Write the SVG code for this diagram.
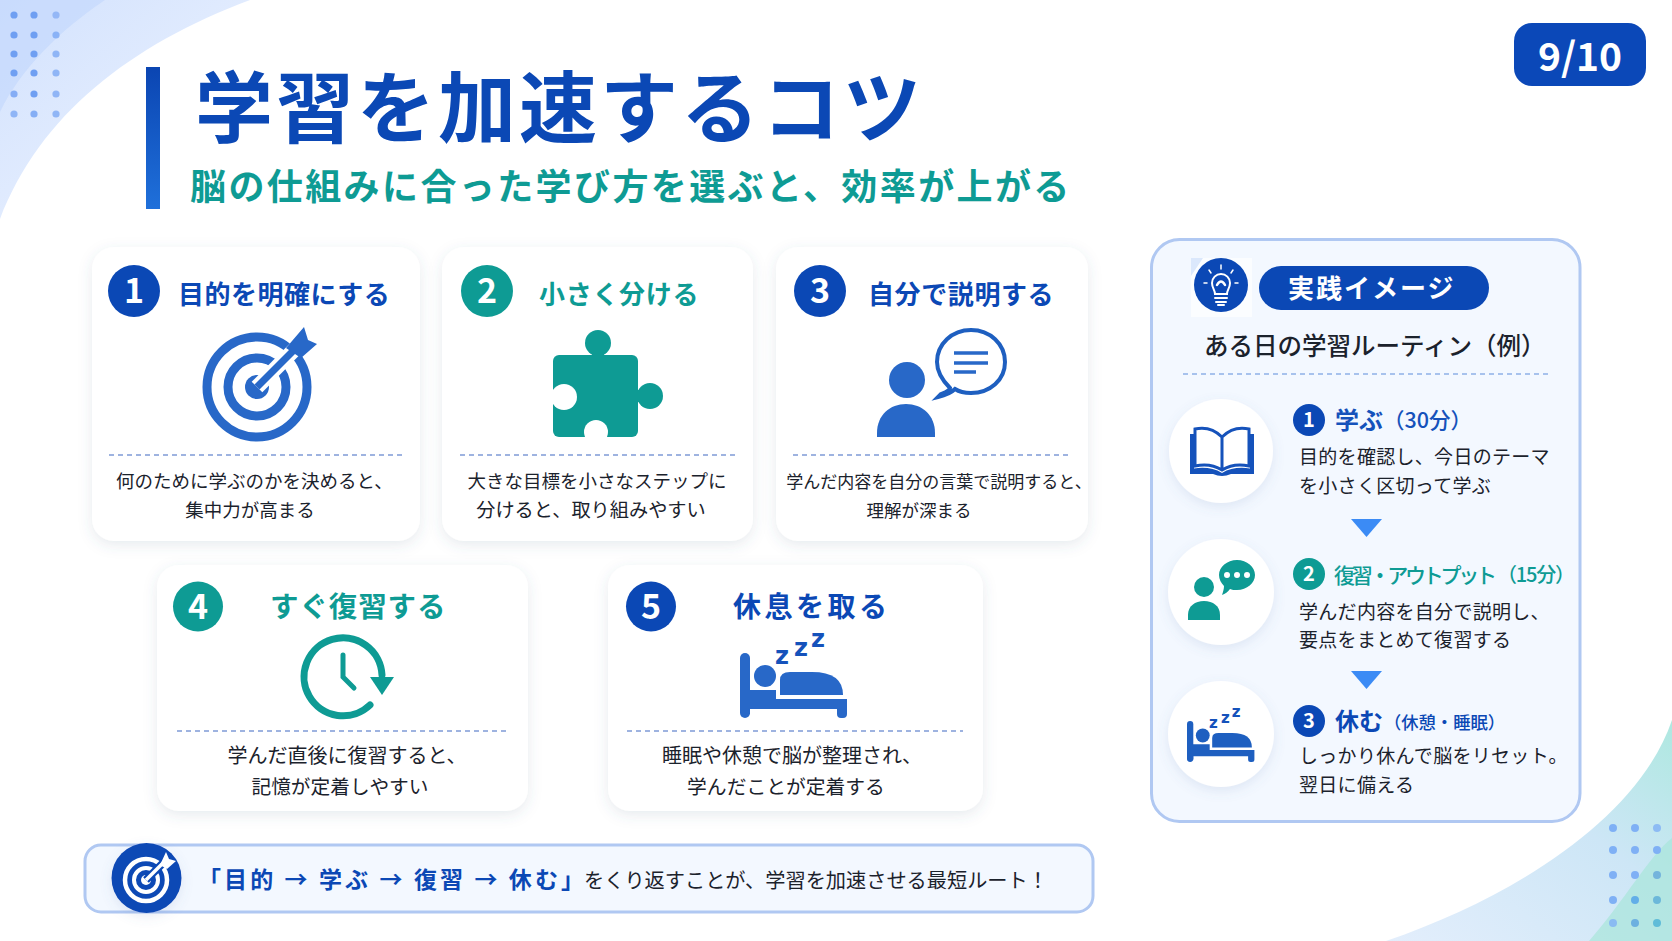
<svg xmlns="http://www.w3.org/2000/svg" xmlns:xlink="http://www.w3.org/1999/xlink" width="1672" height="941" viewBox="0 0 1672 941">
<style>
text{font-family:"Noto Sans CJK JP","Noto Sans",sans-serif}
.card{fill:#fff;filter:url(#sh)}
.dash{stroke:#7f9ad6;stroke-width:1.6;stroke-dasharray:5 4;fill:none}
.d{font-size:18.5px;fill:#1b222c;text-anchor:middle;font-weight:400}
.t{font-weight:700;font-size:26px}
.num{fill:#fff;font-weight:700;font-size:34px;text-anchor:middle}
.nums{fill:#fff;font-weight:700;font-size:20px;text-anchor:middle}
.blue{fill:#0b48b5}.teal{fill:#0e9b94}.ib{fill:#2868c8}
.sd{font-size:19px;fill:#1b222c;letter-spacing:.3px}
.z{font-family:"DejaVu Sans",sans-serif;font-weight:700;font-size:24px;fill:#1552bb}
.circ{fill:#fff;filter:url(#sh2)}
</style>
<defs>
<filter id="sh" x="-10%" y="-10%" width="120%" height="125%"><feDropShadow dx="0" dy="4" stdDeviation="7" flood-color="#4a6080" flood-opacity=".13"/></filter>
<filter id="sh2" x="-20%" y="-20%" width="140%" height="145%"><feDropShadow dx="0" dy="4" stdDeviation="6" flood-color="#5a7ab0" flood-opacity=".14"/></filter>
<linearGradient id="bar" x1="0" y1="0" x2="0" y2="1"><stop offset="0" stop-color="#0b45b2"/><stop offset="1" stop-color="#1f70da"/></linearGradient>
<linearGradient id="tl" x1="0" y1="0" x2="1" y2="1"><stop offset="0" stop-color="#d3e2fd"/><stop offset="1" stop-color="#eef4ff"/></linearGradient>
<linearGradient id="br" x1="0" y1="1" x2="1" y2="0"><stop offset="0" stop-color="#e3eefc"/><stop offset=".6" stop-color="#cde6f6"/><stop offset="1" stop-color="#aee8e0"/></linearGradient>
<g id="bed">
<rect x="740" y="653" width="10" height="65" rx="5"/>
<path d="M745 690H776V699H847V714a4 4 0 0 1-4 4H841a4 4 0 0 1-4-4V709H750V714H745Z"/>
<circle cx="765" cy="676" r="11"/>
<path d="M780 695V680Q780 672 790 672H812Q843 672 843 695Z"/>
<text class="z" x="775" y="664">z</text><text class="z" x="794" y="656">z</text><text class="z" x="811" y="647">z</text>
</g>
</defs>
<rect width="1672" height="941" fill="#fff"/>
<g id="background">
<path d="M0 0H250C130 45 40 115 0 219Z" fill="url(#tl)"/>
<path d="M0 0H105C60 30 20 70 0 112Z" fill="#c4d9fc" opacity=".7"/>
<path d="M1672 720C1640 815 1520 895 1386 941H1672Z" fill="url(#br)"/>
<path d="M1672 838C1650 855 1625 900 1589 941H1672Z" fill="#a8e6da" opacity=".7"/>
<g fill="#6f9ff2">
<circle cx="14" cy="15" r="3.6"/><circle cx="34" cy="15" r="3.6"/><circle cx="56" cy="15" r="3.6" opacity=".6"/>
<circle cx="14" cy="35" r="3.6"/><circle cx="34" cy="35" r="3.6"/><circle cx="56" cy="35" r="3.6" opacity=".7"/>
<circle cx="14" cy="54" r="3.6"/><circle cx="34" cy="54" r="3.6"/><circle cx="56" cy="54" r="3.6" opacity=".7"/>
<circle cx="14" cy="73" r="3.6"/><circle cx="34" cy="73" r="3.6"/><circle cx="56" cy="73" r="3.6" opacity=".7"/>
<circle cx="14" cy="94" r="3.6" opacity=".8"/><circle cx="34" cy="94" r="3.6"/><circle cx="56" cy="94" r="3.6" opacity=".7"/>
<circle cx="14" cy="114" r="3.6" opacity=".7"/><circle cx="34" cy="114" r="3.6" opacity=".8"/><circle cx="56" cy="114" r="3.6" opacity=".7"/>
</g>
<g fill="#7fb0f5">
<circle cx="1613" cy="828" r="4"/><circle cx="1635" cy="828" r="4"/><circle cx="1657" cy="828" r="4" opacity=".8"/>
<circle cx="1613" cy="850" r="4"/><circle cx="1635" cy="850" r="4"/><circle cx="1657" cy="850" r="4"/>
<circle cx="1613" cy="875" r="4"/><circle cx="1635" cy="875" r="4"/><circle cx="1657" cy="875" r="4" fill="#74b4dc"/>
<circle cx="1613" cy="900" r="4"/><circle cx="1635" cy="900" r="4" fill="#62aee8"/><circle cx="1657" cy="900" r="4" fill="#6cb8da"/>
<circle cx="1613" cy="923" r="4" opacity=".8"/><circle cx="1635" cy="923" r="4" fill="#6cb0e0"/><circle cx="1657" cy="923" r="4" fill="#60bcd8"/>
</g>
</g>
<g id="header">
<rect x="146" y="67" width="14" height="142" fill="url(#bar)"/>
<text x="195" y="137" font-size="78" font-weight="700" letter-spacing="3" class="blue">学習を加速するコツ</text>
<text x="190" y="200" font-size="36" font-weight="700" letter-spacing="2.4" class="teal">脳の仕組みに合った学び方を選ぶと、効率が上がる</text>
</g>
<g id="page-badge">
<rect x="1514" y="23" width="132" height="63" rx="18" fill="#0b48b8"/>
<text x="1580" y="71" font-size="39" font-weight="700" fill="#fff" text-anchor="middle">9/10</text>
</g>
<g id="card-1">
<rect class="card" x="92" y="247" width="328" height="294" rx="22"/>
<circle cx="134" cy="291" r="26" class="blue"/><text class="num" x="134" y="303">1</text>
<text class="t blue" x="178" y="304" letter-spacing=".5">目的を明確にする</text>
<g fill="none" stroke="#2868c8" stroke-width="9"><circle cx="257" cy="387" r="50"/><circle cx="257" cy="387" r="29"/></g>
<circle cx="257" cy="387" r="12" class="ib"/>
<path d="M257 387L296 348" stroke="#fff" stroke-width="15" fill="none"/>
<path d="M257 387L296 348" stroke="#2868c8" stroke-width="7" fill="none"/>
<path d="M304 327L308 340L317 344L301 358L286 348Z" class="ib"/>
<path class="dash" d="M109 455H402"/>
<text class="d" x="254.500" y="488">何のために学ぶのかを決めると、</text>
<text class="d" x="250" y="517">集中力が高まる</text>
</g>
<g id="card-2">
<rect class="card" x="442" y="247" width="311" height="294" rx="22"/>
<circle cx="487" cy="291" r="26" class="teal"/><text class="num" x="487" y="303">2</text>
<text class="t teal" x="539" y="304" letter-spacing=".7">小さく分ける</text>
<rect x="553" y="355" width="85" height="82" rx="6" class="teal"/>
<circle cx="598" cy="343" r="13" class="teal"/><circle cx="650" cy="396" r="13" class="teal"/>
<rect x="592" y="350" width="12" height="10" class="teal"/><rect x="634" y="390" width="10" height="12" class="teal"/>
<circle cx="564" cy="397" r="13" fill="#fff"/><rect x="551" y="391" width="6" height="12" fill="#fff"/>
<circle cx="596" cy="432" r="12" fill="#fff"/><rect x="590" y="434" width="12" height="5" fill="#fff"/>
<path class="dash" d="M460 455H735"/>
<text class="d" x="597" y="488">大きな目標を小さなステップに</text>
<text class="d" x="591" y="517" style="font-size:19.200px">分けると、取り組みやすい</text>
</g>
<g id="card-3">
<rect class="card" x="776" y="247" width="312" height="294" rx="22"/>
<circle cx="820" cy="291" r="26" class="blue"/><text class="num" x="820" y="303">3</text>
<text class="t blue" x="868" y="304" letter-spacing=".6">自分で説明する</text>
<circle cx="907" cy="380" r="18" class="ib"/>
<path d="M877 437V433C877 415 890 404 906 404S935 415 935 433V437Z" class="ib"/>
<path d="M941 394C949 391 950 389 950 388C940 378 937 370 937 362C937 344 952 330 971 330S1005 344 1005 362S990 393 971 393C964 393 958 391 955 389C951 393 946 395 938 397Z" fill="#fff" stroke="#1e5fc0" stroke-width="4"/>
<path d="M954 353H988M954 363H988M954 372H976" stroke="#2868c8" stroke-width="3.500" fill="none"/>
<path class="dash" d="M793 455H1070"/>
<text class="d" x="939" y="488" style="font-size:17px">学んだ内容を自分の言葉で説明すると、</text>
<text class="d" x="919" y="517" style="font-size:17.500px">理解が深まる</text>
</g>
<g id="card-4">
<rect class="card" x="157" y="565" width="371" height="246" rx="22"/>
<circle cx="198" cy="606.500" r="25" class="teal"/><text class="num" x="198" y="618.500">4</text>
<text class="t teal" x="270" y="617" style="font-size:28.500px" letter-spacing=".9">すぐ復習する</text>
<path d="M370 705A39 39 0 1 1 382 675" fill="none" stroke="#0e9b94" stroke-width="7" stroke-linecap="round"/>
<path d="M370 677H394L382 695Z" class="teal"/>
<path d="M343 655V677L354 688" fill="none" stroke="#0e9b94" stroke-width="5" stroke-linecap="round"/>
<path class="dash" d="M177 731H507"/>
<text class="d" x="347" y="763" style="font-size:20px">学んだ直後に復習すると、</text>
<text class="d" x="340" y="794" style="font-size:19.700px">記憶が定着しやすい</text>
</g>
<g id="card-5">
<rect class="card" x="608" y="565" width="375" height="246" rx="22"/>
<circle cx="651" cy="606.500" r="25" class="blue"/><text class="num" x="651" y="618.500">5</text>
<text class="t blue" x="733" y="617" style="font-size:28px" letter-spacing="3.500">休息を取る</text>
<use xlink:href="#bed" href="#bed" fill="#2868c8"/>
<path class="dash" d="M627 731H963"/>
<text class="d" x="792" y="763" style="font-size:20px">睡眠や休憩で脳が整理され、</text>
<text class="d" x="786" y="794" style="font-size:19.800px">学んだことが定着する</text>
</g>
<g id="tip-bar">
<rect x="85" y="845" width="1008" height="67" rx="16" fill="#f3f8ff" stroke="#b0c8f2" stroke-width="3"/>
<circle cx="146.500" cy="878" r="35" class="blue" filter="url(#sh2)"/>
<g fill="none" stroke="#fff"><circle cx="146" cy="880" r="21" stroke-width="4.500"/><circle cx="146" cy="880" r="12" stroke-width="4"/></g>
<circle cx="146" cy="880" r="5" fill="#fff"/>
<path d="M146 880L164 862" stroke="#0b48b5" stroke-width="8" fill="none"/>
<path d="M146 880L164 862" stroke="#fff" stroke-width="3.500" fill="none"/>
<path d="M166 852L169 859L176 861L167 869L160 865Z" fill="#fff"/>
<text x="198" y="888" font-size="23" font-weight="700" class="blue" textLength="386" lengthAdjust="spacing">「目的 → 学ぶ → 復習 → 休む」</text>
<text x="584" y="888" font-size="20.200" font-weight="400" fill="#1b222c">をくり返すことが、学習を加速させる最短ルート！</text>
</g>
<g id="practice-panel">
<rect x="1151.500" y="239.500" width="428.500" height="582" rx="28" fill="#f3f8ff" stroke="#b0c8f2" stroke-width="3"/>
<rect x="1191" y="258" width="61" height="59" fill="#fbfdff"/>
<path d="M1191 258H1203L1191 276Z" fill="#dbe8fc"/>
<circle cx="1221" cy="285" r="27" class="blue"/>
<g fill="none" stroke="#fff" stroke-width="2" stroke-linecap="round">
<path d="M1215 294C1215 290 1212 288 1212 283A9 9 0 0 1 1230 283C1230 288 1227 290 1227 294Z"/>
<path d="M1215 298H1227M1216 302H1226M1218 305H1224"/>
<path d="M1221 269V265M1211 273L1209 270M1231 273L1233 270M1207 283H1204M1235 283H1238" stroke-width="1.500"/>
<path d="M1217 285Q1221 278 1225 285" stroke-width="2.500"/>
</g>
<rect x="1259" y="266" width="230" height="44" rx="22" class="blue"/>
<text x="1288" y="298" font-size="26" font-weight="700" fill="#fff" letter-spacing="2">実践イメージ</text>
<text x="1204" y="355" font-size="24.500" font-weight="500" fill="#1b222c">ある日の学習ルーティン（例）</text>
<path d="M1183 374H1550" stroke="#8fb0e8" stroke-width="1.600" stroke-dasharray="5 4" fill="none"/>
</g>
<g id="step-1">
<circle class="circ" cx="1221" cy="451" r="52"/>
<path d="M1222 437C1214 429 1204 427 1195 429V466C1204 464 1214 465 1222 470C1230 465 1240 464 1249 466V429C1240 427 1230 429 1222 437V470" fill="none" stroke="#1552bb" stroke-width="3"/>
<path d="M1190 434V474H1213Q1222 478 1231 474H1254V434H1250V468.500C1240 467 1230 468 1222 473C1214 468 1204 467 1194 468.500V434Z" fill="#1552bb"/>
<circle cx="1309" cy="420" r="16" class="blue"/><text class="nums" x="1309" y="427">1</text>
<text x="1335" y="429" font-size="24" font-weight="700" fill="#1552bb">学ぶ</text>
<text x="1383" y="428" font-size="21.500" font-weight="500" fill="#1552bb">（30分）</text>
<text class="sd" x="1299" y="464">目的を確認し、今日のテーマ</text>
<text class="sd" x="1299" y="493">を小さく区切って学ぶ</text>
</g>
<g id="step-2">
<circle class="circ" cx="1221" cy="592" r="53"/>
<circle cx="1204" cy="587" r="10" class="teal"/>
<path d="M1188 620V615C1188 606 1195 601 1204 601S1220 606 1220 615V620Z" class="teal"/>
<path d="M1237 560C1247 560 1255 567 1255 575S1247 590 1237 590C1234 590 1232 590 1230 589C1228 592 1225 594 1222 595C1223 592 1224 589 1224 586C1221 583 1219 579 1219 575C1219 567 1227 560 1237 560Z" class="teal"/>
<circle cx="1227" cy="575" r="3" fill="#fff"/><circle cx="1237" cy="575" r="3" fill="#fff"/><circle cx="1247" cy="575" r="3" fill="#fff"/>
<circle cx="1309" cy="574" r="16" class="teal"/><text class="nums" x="1309" y="581">2</text>
<text x="1334" y="583" font-size="21" font-weight="500" class="teal" textLength="163" lengthAdjust="spacing">復習・アウトプット</text>
<text x="1497" y="582" font-size="20" font-weight="500" class="teal" textLength="78" lengthAdjust="spacing">（15分）</text>
<text class="sd" x="1299" y="619">学んだ内容を自分で説明し、</text>
<text class="sd" x="1299" y="647">要点をまとめて復習する</text>
</g>
<g id="step-3">
<circle class="circ" cx="1221" cy="734" r="53"/>
<use xlink:href="#bed" href="#bed" fill="#1e5fc0" transform="translate(1187 721) scale(.63) translate(-740 -653)"/>
<circle cx="1309" cy="721" r="16" class="blue"/><text class="nums" x="1309" y="728">3</text>
<text x="1335" y="730" font-size="24" font-weight="700" fill="#0b48b5">休む</text>
<text x="1384" y="729" font-size="17.300" font-weight="500" fill="#0b48b5">（休憩・睡眠）</text>
<text class="sd" x="1299" y="763">しっかり休んで脳をリセット。</text>
<text class="sd" x="1299" y="792">翌日に備える</text>
</g>
<g id="connectors" fill="#3b8bf5">
<path d="M1351 519H1382L1366.500 537Z"/>
<path d="M1351 671H1382L1366.500 689Z"/>
</g>
</svg>
